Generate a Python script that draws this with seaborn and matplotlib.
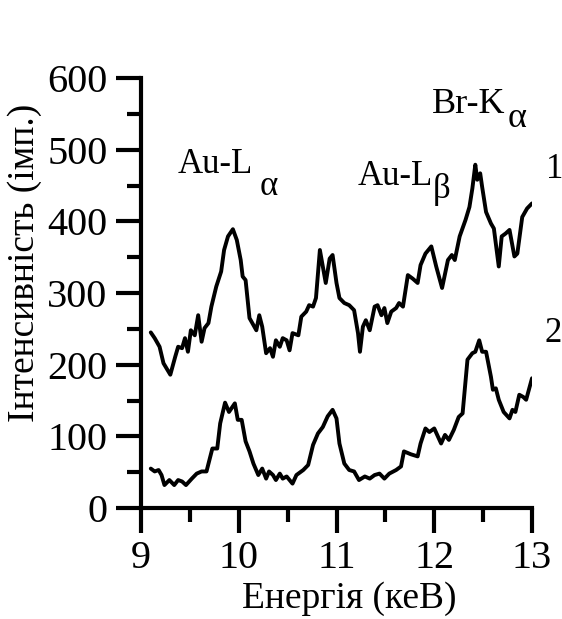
import matplotlib
matplotlib.use("Agg")
import matplotlib.pyplot as plt
import seaborn as sns
from matplotlib.ticker import MultipleLocator

# ---- data ----
energy_1 = [9.10, 9.14, 9.19, 9.23, 9.30, 9.35, 9.38, 9.42, 9.45, 9.48, 9.51, 9.55,
            9.585, 9.62, 9.65, 9.69, 9.72, 9.77, 9.82, 9.85, 9.89, 9.94, 9.98, 10.02,
            10.04, 10.07, 10.11, 10.18, 10.21, 10.24, 10.28, 10.32, 10.35, 10.38, 10.42,
            10.45, 10.49, 10.52, 10.55, 10.61, 10.64, 10.69, 10.72, 10.76, 10.79, 10.83,
            10.89, 10.93, 10.96, 11.00, 11.03, 11.08, 11.13, 11.18, 11.22, 11.24, 11.27,
            11.30, 11.34, 11.39, 11.42, 11.46, 11.49, 11.52, 11.56, 11.61, 11.64, 11.68,
            11.73, 11.78, 11.83, 11.86, 11.91, 11.97, 12.02, 12.08, 12.14, 12.18, 12.21,
            12.26, 12.32, 12.36, 12.39, 12.42, 12.44, 12.47, 12.49, 12.53, 12.58, 12.61,
            12.66, 12.69, 12.73, 12.77, 12.82, 12.85, 12.90, 12.95, 13.00]
counts_1 = [245, 237, 225, 202, 186, 211, 225, 223, 237, 218, 248, 241,
            269, 232, 251, 258, 281, 309, 330, 360, 379, 389, 374, 346,
            323, 318, 265, 248, 269, 253, 216, 223, 211, 234, 225,
            237, 234, 220, 244, 241, 267, 274, 283, 281, 293, 360,
            314, 348, 353, 314, 293, 286, 283, 276, 244, 218, 253,
            262, 248, 281, 283, 269, 279, 258, 274, 279, 286, 281,
            325, 320, 314, 339, 355, 365, 337, 307, 346, 353, 346,
            379, 402, 420, 446, 479, 458, 467, 448, 413, 397, 390,
            337, 379, 383, 388, 351, 355, 406, 418, 425]

energy_2 = [9.10, 9.14, 9.18, 9.21, 9.24, 9.29, 9.34, 9.38, 9.42, 9.46, 9.52, 9.57,
            9.62, 9.67, 9.70, 9.73, 9.78, 9.81, 9.86, 9.90, 9.96, 9.99, 10.03, 10.07,
            10.11, 10.15, 10.20, 10.24, 10.28, 10.31, 10.35, 10.38, 10.42, 10.45, 10.49,
            10.55, 10.59, 10.66, 10.71, 10.76, 10.81, 10.86, 10.91, 10.96, 11.00, 11.03,
            11.08, 11.13, 11.18, 11.23, 11.29, 11.34, 11.39, 11.44, 11.49, 11.54, 11.61,
            11.66, 11.69, 11.76, 11.83, 11.86, 11.91, 11.95, 12.00, 12.07, 12.11, 12.15,
            12.20, 12.25, 12.29, 12.34, 12.39, 12.42, 12.46, 12.49, 12.53, 12.58, 12.60,
            12.63, 12.66, 12.71, 12.77, 12.80, 12.83, 12.87, 12.91, 12.94, 13.00]
counts_2 = [55, 51, 53, 46, 32, 39, 32, 39, 37, 32, 41, 48,
            51, 51, 67, 83, 83, 118, 147, 134, 146, 123, 123, 93,
            79, 62, 46, 55, 41, 51, 46, 39, 48, 41, 44,
            34, 46, 53, 60, 88, 104, 113, 128, 137, 125, 90,
            62, 53, 51, 39, 44, 41, 46, 48, 41, 48, 53,
            58, 79, 75, 72, 90, 111, 106, 111, 90, 102, 95,
            109, 127, 132, 207, 216, 218, 234, 218, 218, 183, 165,
            167, 151, 134, 125, 137, 134, 158, 155, 151, 181]

x_ticks = [9, 10, 11, 12, 13]
y_ticks = [0, 100, 200, 300, 400, 500, 600]
x_label = "Енергія (кеВ)"
y_label = "Інтенсивність (імп.)"
series_labels = ["1", "2"]

# ---- style ----
sns.set_style("ticks", {"axes.edgecolor": "black", "xtick.color": "black",
                        "ytick.color": "black", "text.color": "black"})
plt.rcParams["font.family"] = ["Liberation Serif", "DejaVu Serif"]

W, H = 562, 619
fig = plt.figure(figsize=(W / 100, H / 100), dpi=100)
ax = fig.add_axes([141 / W, 1 - 508 / H, (532 - 141) / W, 430 / H])

sns.lineplot(x=energy_1, y=counts_1, color="black", linewidth=2.8, ax=ax, sort=False)
sns.lineplot(x=energy_2, y=counts_2, color="black", linewidth=2.8, ax=ax, sort=False)

ax.set_xlim(9, 13)
ax.set_ylim(0, 600)
ax.set_xticks(x_ticks)
ax.set_yticks(y_ticks)
ax.xaxis.set_minor_locator(MultipleLocator(0.5))
ax.yaxis.set_minor_locator(MultipleLocator(50))
sns.despine(ax=ax)
for s in ("left", "bottom"):
    ax.spines[s].set_linewidth(3)
    ax.spines[s].set_color("black")
ax.tick_params(which="major", direction="out", length=18, width=3, labelsize=29, pad=6,
               color="black", labelcolor="black")
ax.tick_params(which="minor", direction="out", length=10, width=3, color="black")
ax.tick_params(axis="x", which="major", pad=5)

ax.set_xlabel(x_label, fontsize=27, color="black")
ax.set_ylabel(y_label, fontsize=27, color="black")
ax.xaxis.set_label_coords((349 - 141) / 391, (508 - 608) / 430)
ax.xaxis.label.set_va("baseline")
ax.yaxis.set_label_coords((25 - 141) / 391, (508 - 263) / 430)
ax.yaxis.label.set_va("center")


def ftext(px, py, s, size=25):
    return fig.text(px / W, 1 - py / H, s, ha="left", va="baseline", fontsize=size,
                    color="black")


def label_with_greek(px, py, main, greek, gap, drop, size=25):
    t = ftext(px, py, main, size)
    fig.canvas.draw()
    bb = t.get_window_extent(renderer=fig.canvas.get_renderer())
    ftext(bb.x1 + gap, py + drop, greek, size)


label_with_greek(178, 173, "Au-L", "α", 6, 22)
label_with_greek(358, 185, "Au-L", "β", 0, 13)
label_with_greek(432, 113, "Br-K", "α", 2, 14, size=26)
ftext(546, 178, series_labels[0])
ftext(544, 342, series_labels[1])

fig.savefig("out.png", dpi=100)
